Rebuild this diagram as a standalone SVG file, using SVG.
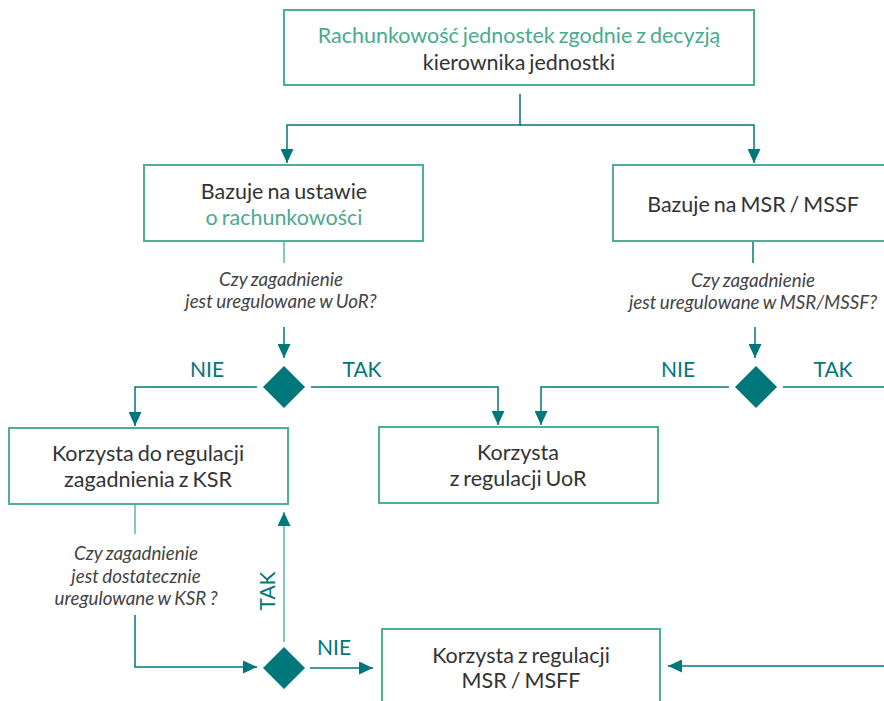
<svg xmlns="http://www.w3.org/2000/svg" width="884" height="701" viewBox="0 0 884 701">
<defs>
<marker id="ah" markerUnits="userSpaceOnUse" markerWidth="14" markerHeight="13" refX="14" refY="6.5" orient="auto">
<path d="M0,0 L14,6.5 L0,13 z" fill="#00777a"/>
</marker>
<style>
.box{fill:#fff;stroke:#4fae96;stroke-width:2}
.t{font-family:Lato,"Noto Sans","Liberation Sans",sans-serif;font-size:21.5px;word-spacing:-1.5px;fill:#333;text-anchor:middle}
.g{fill:#4aaa8e}
.q{font-family:Lato,"Noto Sans","Liberation Sans",sans-serif;font-size:18.8px;word-spacing:-1px;font-style:italic;fill:#444;text-anchor:middle}
.lbl{font-family:Lato,"Noto Sans","Liberation Sans",sans-serif;font-size:21px;fill:#00777a;text-anchor:middle}
.c{fill:none;stroke:#00777a;stroke-width:1.5}
.s{fill:none;stroke:#5fb3ad;stroke-width:1.5}
.d{fill:#00777a}
</style>
</defs>
<rect width="884" height="701" fill="#fff"/>
<g id="connectors">
<path class="c" d="M520,94 V125 H287 V163" marker-end="url(#ah)"/>
<path class="c" d="M520,125 H754 V163" marker-end="url(#ah)"/>
<path class="s" d="M284,241 V263"/>
<path class="c" d="M284,327 V358" marker-end="url(#ah)"/>
<path class="c" d="M753,241 V263"/>
<path class="c" d="M755,327 V358" marker-end="url(#ah)"/>
<path class="c" d="M257,387 H135 V426" marker-end="url(#ah)"/>
<path class="c" d="M311,387 H498 V425" marker-end="url(#ah)"/>
<path class="c" d="M729,387 H541 V425" marker-end="url(#ah)"/>
<path class="c" d="M783,387 H884"/>
<path class="s" d="M135,504 V534"/>
<path class="c" d="M135,615 V667 H257" marker-end="url(#ah)"/>
<path class="s" d="M284,642 V512" marker-end="url(#ah)"/>
<path class="c" d="M310,668 H373" marker-end="url(#ah)"/>
<path class="c" d="M884,666 H668" marker-end="url(#ah)"/>
</g>
<g id="labels">
<text class="lbl" x="207" y="377">NIE</text>
<text class="lbl" x="362" y="377">TAK</text>
<text class="lbl" x="678" y="377">NIE</text>
<text class="lbl" x="833" y="377">TAK</text>
<text class="lbl" x="334" y="655">NIE</text>
<text class="lbl" transform="translate(275,591) rotate(-90)">TAK</text>
</g>
<g id="top">
<rect class="box" x="284" y="10" width="470" height="75"/>
<text class="t" x="519" y="43"><tspan class="g">Rachunkowość jednostek zgodnie z decyzją</tspan></text>
<text class="t" x="519" y="70">kierownika jednostki</text>
</g>
<g id="ustawa">
<rect class="box" x="144" y="165" width="279" height="76"/>
<text class="t" x="284" y="199">Bazuje na ustawie</text>
<text class="t" x="284" y="225"><tspan class="g">o rachunkowości</tspan></text>
</g>
<g id="msr">
<rect class="box" x="613" y="165" width="279" height="76"/>
<text class="t" x="753" y="212">Bazuje na MSR / MSSF</text>
</g>
<g id="q1">
<text class="q" x="281" y="286">Czy zagadnienie</text>
<text class="q" x="281" y="308">jest uregulowane w UoR?</text>
</g>
<g id="q2">
<text class="q" x="753" y="287">Czy zagadnienie</text>
<text class="q" x="753" y="309">jest uregulowane w MSR/MSSF?</text>
</g>
<g id="d1"><polygon class="d" points="284,366 305,387 284,408 263,387"/></g>
<g id="d2"><polygon class="d" points="756,366 777,387 756,408 735,387"/></g>
<g id="ksr">
<rect class="box" x="9" y="428" width="279" height="76"/>
<text class="t" x="148" y="461">Korzysta do regulacji</text>
<text class="t" x="148" y="487">zagadnienia z KSR</text>
</g>
<g id="uor">
<rect class="box" x="379" y="427" width="279" height="76"/>
<text class="t" x="518" y="460">Korzysta</text>
<text class="t" x="518" y="486">z regulacji UoR</text>
</g>
<g id="q3">
<text class="q" x="136" y="560">Czy zagadnienie</text>
<text class="q" x="136" y="583">jest dostatecznie</text>
<text class="q" x="136" y="605">uregulowane w KSR ?</text>
</g>
<g id="d3"><polygon class="d" points="284,647 305,668 284,689 263,668"/></g>
<g id="msrReg">
<rect class="box" x="382" y="629" width="278" height="80"/>
<text class="t" x="521" y="663">Korzysta z regulacji</text>
<text class="t" x="521" y="688">MSR / MSFF</text>
</g>
</svg>
